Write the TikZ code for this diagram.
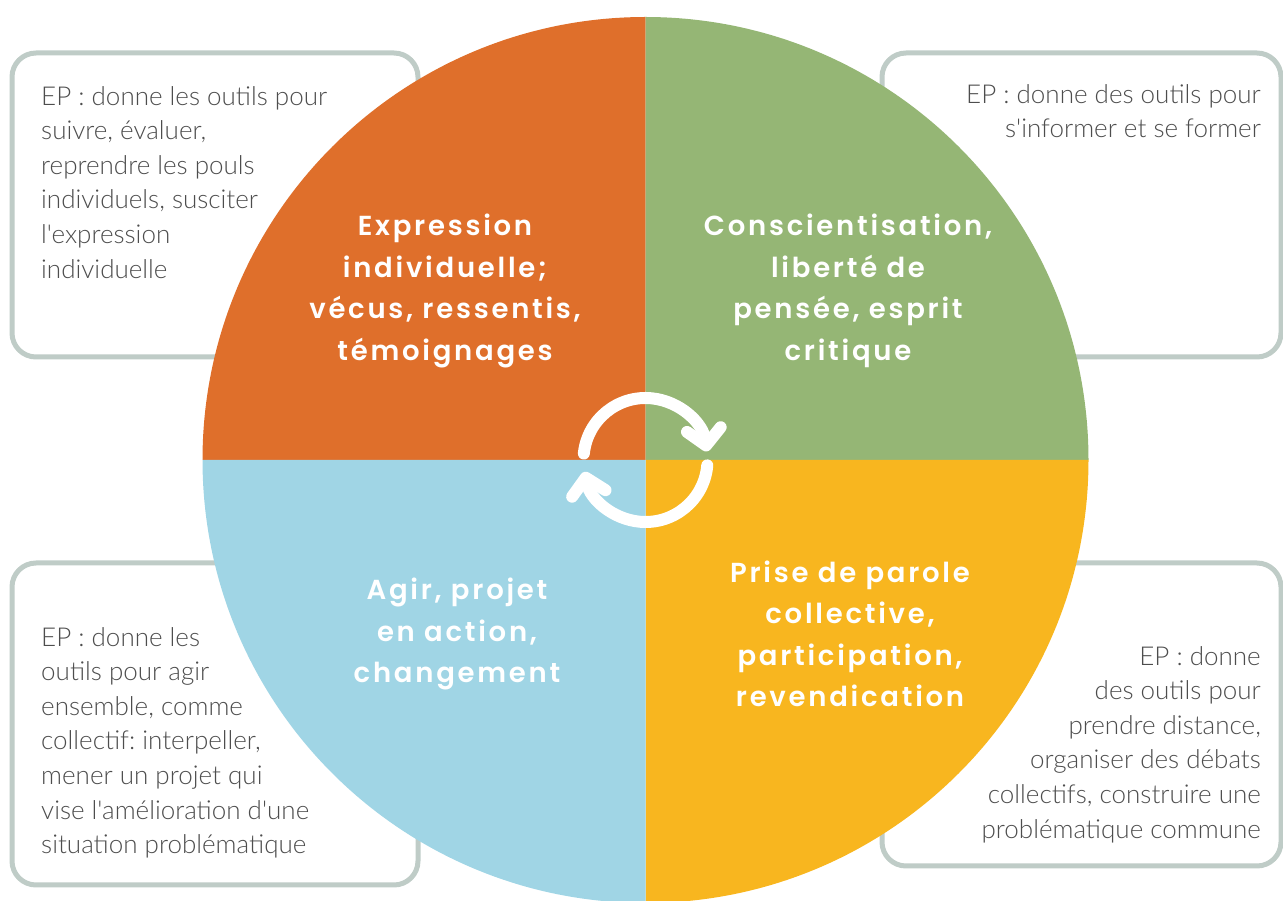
\documentclass[tikz,border=0pt]{standalone}
\usepackage{fontspec}
\setmainfont{Lato}[UprightFont=* Light, Ligatures=TeXOff]
\newfontfamily\quadfont{Poppins}[UprightFont=* SemiBold, LetterSpace=10]
\usepackage{xcolor}
\usetikzlibrary{arrows.meta}
\frenchspacing
\definecolor{quadorange}{HTML}{DF6F2B}
\definecolor{quadgreen}{HTML}{95B675}
\definecolor{quadblue}{HTML}{A0D5E5}
\definecolor{quadyellow}{HTML}{F8B61F}
\definecolor{boxline}{HTML}{BFCCC7}
\definecolor{boxtext}{HTML}{4D4D4D}
\tikzset{
    infobox/.style={draw=boxline, line width=5pt, rounded corners=24pt, fill=white, inner sep=0pt},
    infotext/.style={inner sep=0pt, text=boxtext, font=\fontsize{26}{34.6}\selectfont},
    quadtext/.style={text=white, align=center, inner sep=0pt, font=\quadfont\fontsize{27.5}{41.5}\selectfont},
    cyclearrow/.style={white, line width=12pt, line cap=round,
        -{Straight Barb[length=16pt, width=34pt, line cap=round, line join=round]}}}

\begin{document}
\begin{tikzpicture}[x=1pt, y=1pt]

                    \useasboundingbox (0,0) rectangle (1283,900);

                    \node[infobox, minimum width=406, minimum height=304] (boxNW) at (215,695) {};
                    \node[infobox, minimum width=399, minimum height=304] (boxNE) at (1081.5,695) {};
                    \node[infobox, minimum width=406, minimum height=322] (boxSW) at (215,176) {};
                    \node[infobox, minimum width=399, minimum height=303] (boxSE) at (1081.5,185.5) {};

                    \coordinate (O) at (645.5,440);
                    \fill[quadorange] (O) -- ++(180:443) arc[start angle=180, end angle=90, radius=443] -- cycle;
                    \fill[quadgreen] (O) -- ++(90:443) arc[start angle=90, end angle=0, radius=443] -- cycle;
                    \fill[quadyellow] (O) -- ++(0:443) arc[start angle=0, end angle=-90, radius=443] -- cycle;
                    \fill[quadblue] (O) -- ++(-90:443) arc[start angle=-90, end angle=-180, radius=443] -- cycle;

                    \draw[cyclearrow] (O) ++(174:62) arc[start angle=174, end angle=8, radius=62];
                    \draw[cyclearrow] (O) ++(-5:62) arc[start angle=-5, end angle=-169, radius=62];

                    \node[quadtext] (expression) at (445,609) {Expression\\individuelle;\\vécus, ressentis,\\témoignages};
                    \node[quadtext] (conscience) at (848,609) {Conscientisation,\\liberté de\\pensée, esprit\\critique};
                    \node[quadtext] (parole) at (850,266) {Prise de parole\\collective,\\participation,\\revendication};
                    \node[quadtext] (agir) at (457,266) {Agir, projet\\en action,\\changement};

                    \node[infotext, align=left, anchor=north west] (textNW) at (41,814) {EP : donne les outils pour\\suivre, évaluer,\\reprendre les pouls\\individuels, susciter\\l'expression\\individuelle};
                    \node[infotext, align=right, anchor=north east] (textNE) at (1261,816) {EP : donne des outils pour\\s'informer et se former};
                    \node[infotext, align=left, anchor=north west] (textSW) at (41,273) {EP : donne les\\outils pour agir\\ensemble, comme\\collectif: interpeller,\\mener un projet qui\\vise l'amélioration d'une\\situation problématique};
                    \node[infotext, align=right, anchor=north east] (textSE) at (1261,254) {EP : donne\\des outils pour\\prendre distance,\\organiser des débats\\collectifs, construire une\\problématique commune};

                \end{tikzpicture}
\end{document}
